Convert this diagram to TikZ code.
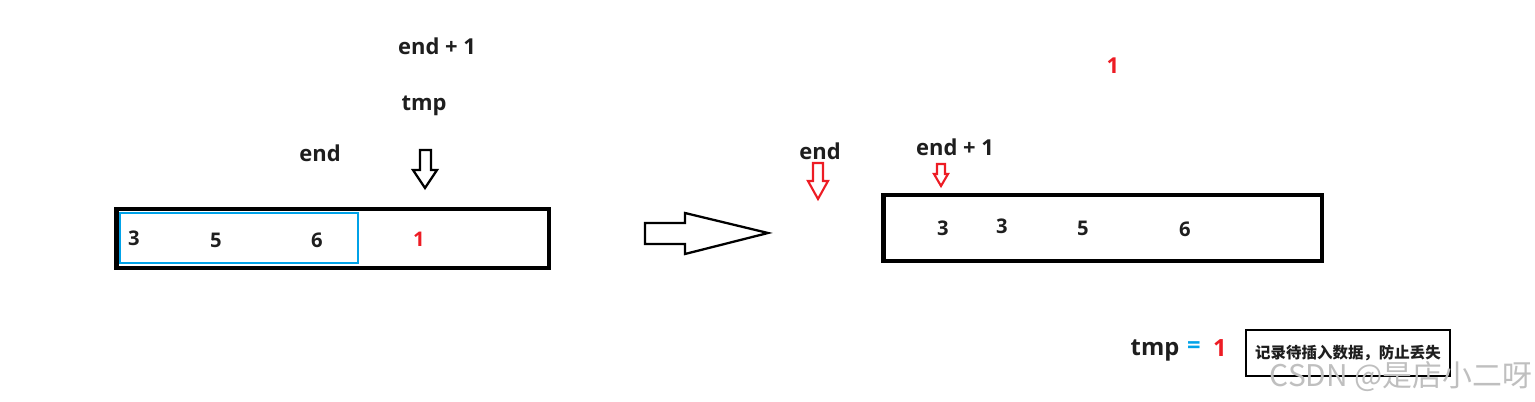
\documentclass[tikz,border=0pt]{standalone}
\usepackage{fontspec}
\setmainfont{Open Sans}
\newfontfamily\cjk{Noto Sans CJK SC}
\definecolor{ink}{HTML}{1E1E1E}
\definecolor{mark}{HTML}{ED1C24}
\definecolor{range}{HTML}{00A2E8}

\begin{document}
\begin{tikzpicture}[
  x=0.02cm, y=-0.02cm,
  font=\bfseries\fontsize{12.5}{14}\selectfont, text=ink,
  array/.style={draw=black, line width=2.8pt, inner sep=0pt},
  sorted/.style={draw=range, line width=1.4pt, inner sep=0pt},
  value/.style={font=\bfseries\fontsize{11.5}{13}\selectfont},
  hollow/.style={draw=black, line width=1.3pt, line join=miter},
  pointer/.style={draw=mark, line width=1.2pt, line join=miter},
  note/.style={draw=black, line width=1.5pt, inner sep=3pt,
    font=\cjk\bfseries\fontsize{8.8}{10}\selectfont}
]
\useasboundingbox (0,0) rectangle (1535,402);

% Before the move: sorted part 3 5 6, then the value to insert.
\node (endone) at (437,46) {end + 1};
\node (tmp) at (424,106) {tmp};
\node (end) at (320,153) {end};
\draw[hollow] (420,150) -- (431,150) -- (431,170) -- (437,170) -- (425,188)
  -- (413,170) -- (420,170) -- cycle;
\node[array, minimum width=8.66cm, minimum height=1.18cm] (before) at (332.5,238.5) {};
\node[sorted, minimum width=4.76cm, minimum height=1cm] (prefix) at (239,238) {};
\node[value] (b1) at (134,238) {3};
\node[value] (b2) at (216,240) {5};
\node[value] (b3) at (317,240) {6};
\node[value, text=mark] (b4) at (419,239) {1};

% Step arrow
\draw[hollow] (645,223) -- (685,223) -- (685,213) -- (768,233) -- (685,254)
  -- (685,244) -- (645,244) -- cycle;

% After the move: 6 and 5 shifted right, end walks left.
\node (end2) at (820,151) {end};
\draw[pointer] (813,163) -- (823,163) -- (823,181) -- (828,181) -- (818,199)
  -- (808,181) -- (813,181) -- cycle;
\node (endone2) at (955,147) {end + 1};
\draw[pointer] (937,164) -- (945,164) -- (945,174) -- (948,174) -- (941,186)
  -- (934,174) -- (937,174) -- cycle;
\node[text=mark] (lifted) at (1113,66) {1};
\node[array, minimum width=8.78cm, minimum height=1.32cm] (after) at (1102.5,228) {};
\node[value] (a1) at (943,228) {3};
\node[value] (a2) at (1002,226) {3};
\node[value] (a3) at (1083,228) {5};
\node[value] (a4) at (1185,229) {6};

% Saved value
\node[font=\bfseries\fontsize{13.5}{15}\selectfont] (tmpname) at (1155,350) {tmp};
\node[font=\bfseries\fontsize{13.5}{15}\selectfont, text=range] (eq) at (1194,348) {=};
\node[font=\bfseries\fontsize{13.5}{15}\selectfont, text=mark] (saved) at (1220,348) {1};
\node[note, minimum width=4.08cm, minimum height=0.92cm] (why) at (1348,353)
  {记录待插入数据，防止丢失};

\node[font=\cjk\fontsize{17}{19}\selectfont, text=black!25] (wm) at (1401,377)
  {CSDN @是店小二呀};
\end{tikzpicture}
\end{document}
